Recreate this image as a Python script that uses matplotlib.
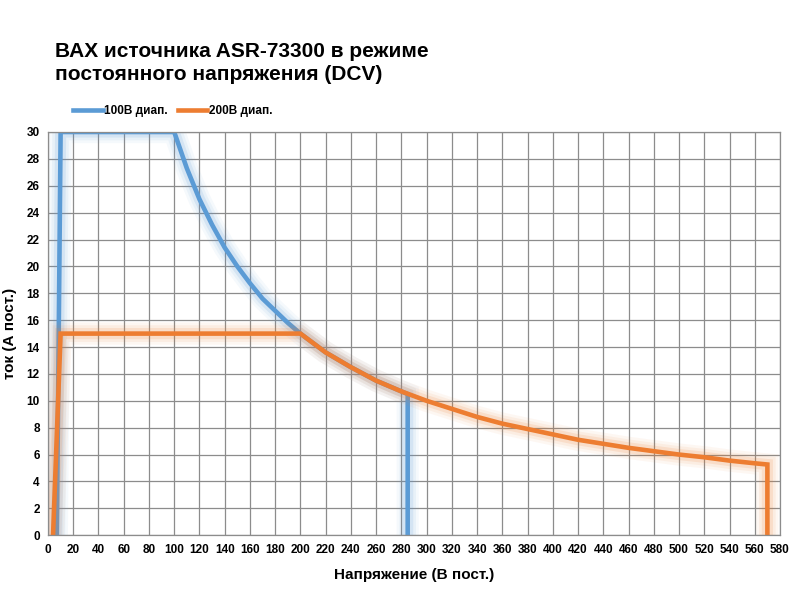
import matplotlib.pyplot as plt
from matplotlib.lines import Line2D

# ── DATA ───────────────────────────────────────────────────
v_100 = [7, 10, 100, 110, 120, 130, 140, 150, 160, 170, 180, 190, 200,
         220, 240, 260, 280, 285, 285]
i_100 = [0, 30, 30, 27.3, 25, 23.1, 21.4, 20, 18.75, 17.6, 16.7, 15.8, 15,
         13.6, 12.5, 11.5, 10.7, 10.5, 0]

v_200 = [4, 10, 200, 220, 240, 260, 280, 300, 320, 340, 360, 380, 400, 420,
         440, 460, 480, 500, 520, 540, 560, 570, 570]
i_200 = [0, 15, 15, 13.6, 12.5, 11.5, 10.7, 10, 9.4, 8.8, 8.3, 7.9, 7.5, 7.1,
         6.8, 6.5, 6.25, 6, 5.8, 5.55, 5.35, 5.26, 0]

x_ticks = list(range(0, 581, 20))
y_ticks = list(range(0, 31, 2))

labels = ["100В диап.", "200В диап."]

# ── PALETTE ────────────────────────────────────────────────
BLUE   = "#5B9BD5"
ORANGE = "#ED7D31"
GRID   = "#8C8C8C"

plt.rcParams["font.family"] = ["Liberation Sans", "DejaVu Sans"]

fig = plt.figure(figsize=(8, 6), dpi=100)
ax = fig.add_axes([0.06, 0.108, 0.915, 0.672])


def glow_line(x, y, color, label):
    # soft halo behind the line
    for lw, a in [(16, 0.06), (12, 0.08), (8, 0.14)]:
        ax.plot(x, y, color=color, lw=lw, alpha=a,
                solid_joinstyle="miter", solid_capstyle="butt")
    ax.plot(x, y, color=color, lw=3.3, label=label,
            solid_joinstyle="miter", solid_capstyle="butt")


glow_line(v_100, i_100, BLUE, labels[0])
glow_line(v_200, i_200, ORANGE, labels[1])

ax.set_xlim(0, 580)
ax.set_ylim(0, 30)
ax.set_xticks(x_ticks)
ax.set_yticks(y_ticks)
ax.tick_params(length=0, labelsize=8.5, pad=6)
for t in ax.get_xticklabels() + ax.get_yticklabels():
    t.set_fontweight("bold")
ax.grid(True, color=GRID, lw=0.9)
ax.set_axisbelow(True)
for s in ax.spines.values():
    s.set_color(GRID)
    s.set_linewidth(0.9)

ax.set_xlabel("Напряжение (В пост.)", fontsize=11, fontweight="bold", labelpad=9)
ax.set_ylabel("ток (А пост.)", fontsize=11, fontweight="bold", labelpad=7)

fig.text(0.069, 0.93, "ВАХ источника ASR-73300 в режиме\nпостоянного напряжения (DCV)",
         fontsize=15, fontweight="bold", va="top", ha="left", linespacing=1.25)

handles = [Line2D([0], [0], color=BLUE, lw=3.3),
           Line2D([0], [0], color=ORANGE, lw=3.3)]
leg = fig.legend(handles, labels, loc="center left", bbox_to_anchor=(0.078, 0.815),
                 ncol=2, frameon=False, handlelength=2.5, handletextpad=0.1,
                 columnspacing=0.9, prop={"size": 8.5, "weight": "bold"})

fig.savefig("out.png", dpi=100)
